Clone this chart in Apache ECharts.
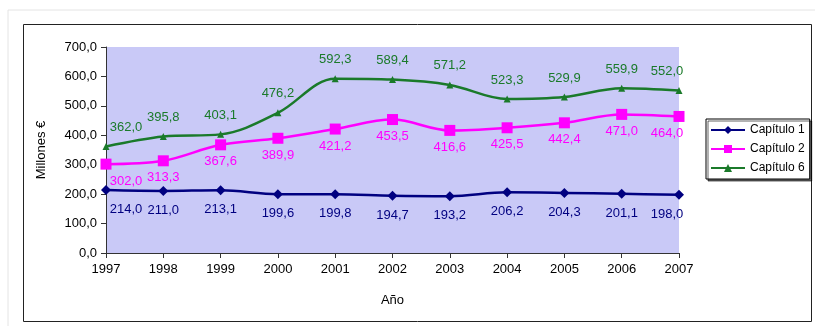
<html>
  <head>
    <meta charset="utf-8" />
    <script src="https://cdn.jsdelivr.net/npm/echarts@6/dist/echarts.min.js"></script>
  </head>
  <body>
    <style>
      html,
      body,
      #main {
        width: 100%;
        height: 100%;
        margin: 0;
        background: #fff;
      }
    </style>
    <div id="main"></div>
    <script>
      const years = ["1997", "1998", "1999", "2000", "2001", "2002", "2003", "2004", "2005", "2006", "2007"];
      const cap1 = [214.0, 211.0, 213.1, 199.6, 199.8, 194.7, 193.2, 206.2, 204.3, 201.1, 198.0];
      const cap2 = [302.0, 313.3, 367.6, 389.9, 421.2, 453.5, 416.6, 425.5, 442.4, 471.0, 464.0];
      const cap6 = [362.0, 395.8, 403.1, 476.2, 592.3, 589.4, 571.2, 523.3, 529.9, 559.9, 552.0];

      const fmt = (v) => v.toFixed(1).replace(".", ",");
      const font = "Liberation Sans, Arial, sans-serif";

      // nudge first / last labels inward like Excel does
      function withOffsets(arr) {
        return arr.map((v, i) => {
          let dx = 0;
          if (i === 0) dx = 20;
          if (i === arr.length - 1) dx = -12;
          return { value: v, label: { offset: [dx, 0] } };
        });
      }

      function makeSeries(name, values, color, symbol, size, pos, dist) {
        return {
          name,
          type: "line",
          data: withOffsets(values),
          smooth: 0.35,
          symbol,
          symbolSize: size,
          lineStyle: { color, width: 2.5 },
          itemStyle: { color },
          label: {
            show: true,
            position: pos,
            distance: dist,
            color,
            fontFamily: font,
            fontSize: 13,
            formatter: (p) => fmt(p.value),
          },
        };
      }

      var chart = echarts.init(document.getElementById("main"));

      var option = {
        animation: false,
        textStyle: { fontFamily: font },
        graphic: [
          {
            type: "rect",
            shape: { x: 8, y: 10, width: 815, height: 330 },
            style: { fill: "none", stroke: "#e4e4e4", lineWidth: 1 },
            silent: true,
          },
          {
            type: "rect",
            shape: { x: 23.5, y: 24.5, width: 788, height: 297 },
            style: { fill: "none", stroke: "#222", lineWidth: 1 },
            silent: true,
          },
        ],
        grid: {
          left: 106,
          right: 136,
          top: 47,
          bottom: 73,
          show: true,
          backgroundColor: "#c9c9f7",
          borderWidth: 0,
        },
        legend: {
          orient: "vertical",
          left: 706,
          top: 119,
          itemWidth: 34,
          itemHeight: 10,
          itemGap: 7,
          padding: [5, 5, 5, 4],
          borderColor: "#000",
          borderWidth: 1,
          backgroundColor: "#fff",
          shadowColor: "rgba(0,0,0,0.6)",
          shadowOffsetX: 2,
          shadowOffsetY: 2,
          textStyle: { fontSize: 12, color: "#000", fontFamily: font },
          data: ["Capítulo 1", "Capítulo 2", "Capítulo 6"],
        },
        xAxis: {
          type: "category",
          data: years,
          boundaryGap: false,
          name: "Año",
          nameLocation: "middle",
          nameGap: 41,
          nameTextStyle: { fontSize: 13, color: "#000" },
          axisLine: { lineStyle: { color: "#333", width: 1 } },
          axisTick: { show: true, length: 5, inside: false, lineStyle: { color: "#333" } },
          axisLabel: { fontSize: 13, color: "#000", margin: 10 },
          splitLine: { show: false },
        },
        yAxis: {
          type: "value",
          min: 0,
          max: 700,
          interval: 100,
          name: "Millones €",
          nameLocation: "middle",
          nameGap: 58,
          nameTextStyle: { fontSize: 13, color: "#000" },
          axisLine: { show: true, lineStyle: { color: "#333", width: 1 } },
          axisTick: { show: true, length: 5, lineStyle: { color: "#333" } },
          axisLabel: { fontSize: 13, color: "#000", margin: 9, formatter: (v) => fmt(v) },
          splitLine: { show: false },
        },
        series: [
          makeSeries("Capítulo 1", cap1, "#000080", "diamond", 10, "bottom", 8),
          makeSeries("Capítulo 2", cap2, "#ff00ff", "rect", 11, "bottom", 5),
          makeSeries("Capítulo 6", cap6, "#1a7a2a", "triangle", 7, "top", 9),
        ],
      };

      chart.setOption(option);
      window.onresize = chart.resize;
    </script>
  </body>
</html>
